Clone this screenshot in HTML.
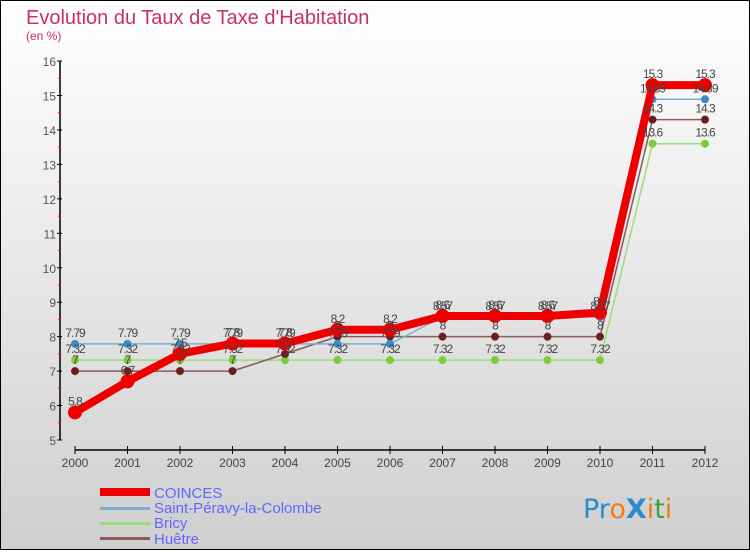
<!DOCTYPE html>
<html><head><meta charset="utf-8"><style>
html,body{margin:0;padding:0}
body{width:750px;height:550px;overflow:hidden;font-family:"Liberation Sans",sans-serif}
</style></head><body>
<svg width="750" height="550" xmlns="http://www.w3.org/2000/svg" id="svg">
<defs><linearGradient id="bg" x1="0" y1="0" x2="0" y2="1"><stop offset="0" stop-color="#ffffff"/><stop offset="1" stop-color="#cfcfcf"/></linearGradient></defs>
<rect x="0.5" y="0.5" width="749" height="549" fill="url(#bg)" stroke="#000"/>
<text x="26" y="24" font-size="20" fill="#c8325f">Evolution du Taux de Taxe d'Habitation</text>
<text x="26" y="40" font-size="12" fill="#c8325f">(en %)</text>
<g id="axes"></g><g id="series"></g><g id="labels"></g>
<g font-size="15" fill="#6464ff">
<rect x="100" y="488" width="50" height="8" fill="#ee0000"/>
<text x="154" y="498">COINCES</text>
<rect x="100" y="507" width="50" height="3" fill="#7aaed0"/>
<text x="154" y="513">Saint-Péravy-la-Colombe</text>
<rect x="100" y="522" width="50" height="3" fill="#9ade7a"/>
<text x="154" y="528">Bricy</text>
<rect x="100" y="537" width="50" height="3" fill="#8b5a5a"/>
<text x="154" y="544">Huêtre</text>
</g>
<text x="583" y="518" font-size="27" font-family="'DejaVu Sans',sans-serif"><tspan fill="#2a8ad0">Pr</tspan><tspan fill="#f07d10">o</tspan><tspan fill="#2a8ad0" font-weight="bold">X</tspan><tspan fill="#f07d10">i</tspan><tspan fill="#40a040">t</tspan><tspan fill="#f07d10">i</tspan></text>
</svg>
<script>
const years=[2000,2001,2002,2003,2004,2005,2006,2007,2008,2009,2010,2011,2012];
const coinces=[5.8,6.7,7.5,7.8,7.8,8.2,8.2,8.6,8.6,8.6,8.7,15.3,15.3];
const peravy=[7.79,7.79,7.79,7.79,7.79,7.79,7.79,8.57,8.57,8.57,8.57,14.89,14.89];
const bricy=[7.32,7.32,7.32,7.32,7.32,7.32,7.32,7.32,7.32,7.32,7.32,13.6,13.6];
const huetre=[7,7,7,7,7.5,8,8,8,8,8,8,14.3,14.3];
const yTicks=[5,6,7,8,9,10,11,12,13,14,15,16];
const NS="http://www.w3.org/2000/svg";
const X=i=>75+i*52.5, Y=v=>440-(v-5)*34.45;
function mk(t,a,p){const e=document.createElementNS(NS,t);for(const k in a)e.setAttribute(k,a[k]);p.appendChild(e);return e;}
const ax=document.getElementById('axes'),se=document.getElementById('series'),lb=document.getElementById('labels');
let e=mk('line',{x1:60,y1:Y(16),x2:60,y2:Y(5),stroke:'#000','stroke-width':1.5},ax);

e=mk('line',{x1:X(0),y1:450,x2:X(12),y2:450,stroke:'#000','stroke-width':1.5},ax);

yTicks.forEach(v=>{
 mk('line',{x1:57,x2:62,y1:Y(v),y2:Y(v),stroke:'#000'},ax);
 const t=mk('text',{x:56,y:Y(v)+5,'font-size':12,fill:'#555','text-anchor':'end'},ax);t.textContent=v;
 
 if(v<16)mk('line',{x1:58,x2:61,y1:Y(v+0.5),y2:Y(v+0.5),stroke:'#f00'},ax);
});
years.forEach((y,i)=>{
 mk('line',{x1:X(i),x2:X(i),y1:446,y2:454,stroke:'#000'},ax);
 const t=mk('text',{x:X(i),y:467,'font-size':12,fill:'#444','text-anchor':'middle'},ax);t.textContent=y;
 
});
function series(name,data,color,w,r,dot,lbl){
 const p=mk('polyline',{points:data.map((v,i)=>X(i)+','+Y(v)).join(' '),fill:'none',stroke:color,'stroke-width':w,'stroke-linejoin':'round'},se);
 
 data.forEach((v,i)=>{
  const c=mk('circle',{cx:X(i),cy:Y(v),r:r,fill:dot},se);
  
  const t=mk('text',{x:X(i),y:Y(v)-7,'font-size':12,fill:'#444','text-anchor':'middle','letter-spacing':'-1'},lb);t.textContent=String(v);
  
 });
}
series('bricy',bricy,'#9ade7a',1.5,4,'#7ccc3c');
series('huetre',huetre,'#8b5a5a',1.5,4,'#6a1e1e');
series('saint-peravy',peravy,'#7aaed0',1.5,4,'#3a8acc');
series('coinces',coinces,'#ee0000',8,7,'#ee0000');
</script>
</body></html>
